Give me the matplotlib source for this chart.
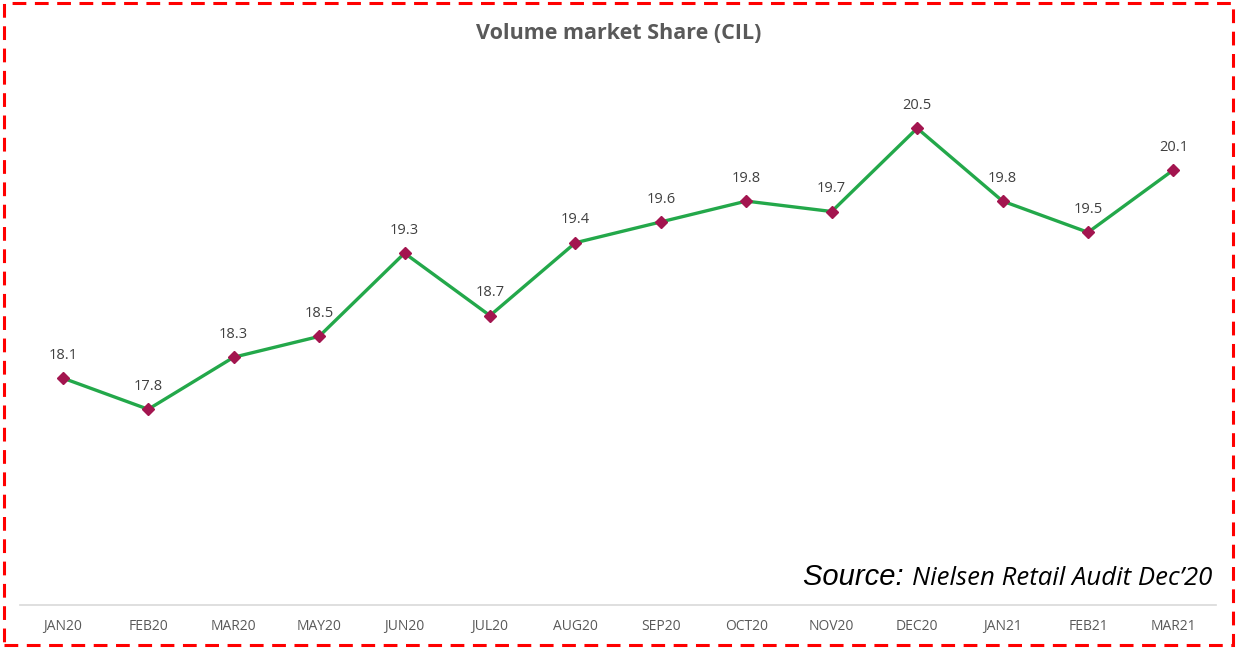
import matplotlib.pyplot as plt
from matplotlib.patches import Rectangle

# Data
months = ["JAN20", "FEB20", "MAR20", "MAY20", "JUN20", "JUL20", "AUG20",
          "SEP20", "OCT20", "NOV20", "DEC20", "JAN21", "FEB21", "MAR21"]
share = [18.1, 17.8, 18.3, 18.5, 19.3, 18.7, 19.4,
         19.6, 19.8, 19.7, 20.5, 19.8, 19.5, 20.1]

fig = plt.figure(figsize=(12.37, 6.48), dpi=100)
ax = fig.add_axes([0.0162, 0.0664, 0.967, 0.816])

x = list(range(len(months)))
ax.plot(x, share, color="#23a84a", lw=2.4, marker="D", markersize=6,
        markerfacecolor="#a3154f", markeredgecolor="#a3154f", zorder=3)

for xi, v in zip(x, share):
    ax.annotate(f"{v:.1f}", (xi, v), xytext=(0, 11), textcoords="offset points",
                ha="center", va="bottom", fontsize=10.5, color="#404040",
                family="Open Sans")

ax.set_xlim(-0.5, len(months) - 0.5)
ax.set_ylim(15.92, 21.0)
ax.set_xticks(x)
ax.set_xticklabels(months, fontsize=10, color="#595959", family="Open Sans")
ax.tick_params(axis="x", length=0, pad=10)
ax.set_yticks([])
for side in ["top", "left", "right"]:
    ax.spines[side].set_visible(False)
ax.spines["bottom"].set_color("#d9d9d9")
ax.spines["bottom"].set_linewidth(1.2)

fig.text(0.5, 0.948, "Volume market Share (CIL)", ha="center", va="center",
         fontsize=15.5, fontweight="bold", color="#595959", family="Open Sans")

# Source note
src = fig.text(0.98, 0.097, "Nielsen Retail Audit Dec\u201920", ha="right",
               va="baseline", fontsize=18.5, style="italic", color="black",
               family="Open Sans")
ax.annotate("Source: ", xy=(0, 0), xycoords=src, ha="right", va="bottom",
            fontsize=21, style="italic", color="black", family="Liberation Sans",
            annotation_clip=False)

# Dashed red frame
fig.patches.append(Rectangle((0.003, 0.005), 0.994, 0.99, transform=fig.transFigure,
                             fill=False, edgecolor="#ff0000", lw=2.2,
                             linestyle=(0, (4.5, 2.8))))

fig.savefig("out.png", dpi=100)
